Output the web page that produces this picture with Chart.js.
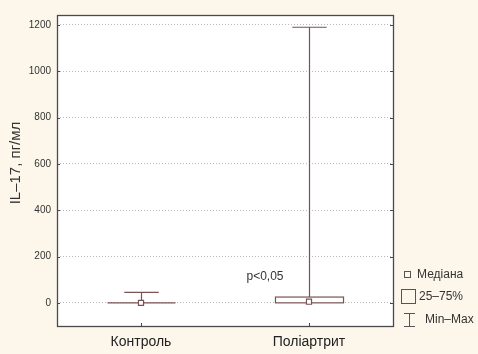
<!DOCTYPE html>
<html>
<head>
<meta charset="utf-8">
<script src="https://cdn.jsdelivr.net/npm/chart.js@4.4.0/dist/chart.umd.min.js"></script>
<style>
  html, body { margin: 0; padding: 0; background: #fcf7ea; }
  canvas { display: block; }
</style>
</head>
<body>
<canvas id="chart" width="478" height="354"></canvas>
<script>
// data
const categories = ['Контроль', 'Поліартрит'];
const minValues = [0, 0];
const q1Values = [0, 0];
const medianValues = [0, 5];
const q3Values = [0, 25];
const maxValues = [45, 1190];
const yTicks = [0, 200, 400, 600, 800, 1000, 1200];
const yTitle = 'IL–17, пг/мл';
const pLabel = 'p<0,05';
const legendLabels = ['Медіана', '25–75%', 'Min–Max'];

const FONT = 'Liberation Sans, Arial, sans-serif';
const BOX_COLOR = '#7a5252';
const PAGE_BG = '#fcf7ea';

Chart.defaults.font.family = FONT;
Chart.defaults.color = '#333';

function line(ctx, x1, y1, x2, y2) {
    ctx.beginPath();
    ctx.moveTo(x1, y1);
    ctx.lineTo(x2, y2);
    ctx.stroke();
}

const boxPlot = {
    id: 'boxPlot',
    beforeDraw(chart) {
        const { ctx, chartArea: a } = chart;
        ctx.save();
        ctx.fillStyle = PAGE_BG;
        ctx.fillRect(0, 0, chart.width, chart.height);
        ctx.fillStyle = '#fff';
        ctx.fillRect(a.left, a.top, a.right - a.left, a.bottom - a.top);
        ctx.restore();
    },
    beforeDatasetsDraw(chart) {
        const { ctx, scales: { x, y } } = chart;
        const step = x.getPixelForValue(1) - x.getPixelForValue(0);
        const boxW = step * 0.405;
        const capW = step * 0.205;
        ctx.save();
        ctx.strokeStyle = BOX_COLOR;
        ctx.lineWidth = 1.2;
        categories.forEach((c, i) => {
            const cx = Math.round(x.getPixelForValue(i)) + 0.5;
            const yMin = y.getPixelForValue(minValues[i]);
            const yQ1 = y.getPixelForValue(q1Values[i]);
            const yQ3 = y.getPixelForValue(q3Values[i]);
            const yMax = y.getPixelForValue(maxValues[i]);
            // upper whisker
            if (maxValues[i] > q3Values[i]) {
                line(ctx, cx, yQ3, cx, yMax);
                line(ctx, cx - capW / 2, yMax, cx + capW / 2, yMax);
            }
            // lower whisker
            if (minValues[i] < q1Values[i]) {
                line(ctx, cx, yQ1, cx, yMin);
                line(ctx, cx - capW / 2, yMin, cx + capW / 2, yMin);
            }
            // box
            if (yQ1 - yQ3 < 1) {
                line(ctx, cx - boxW / 2, yQ1, cx + boxW / 2, yQ1);
            } else {
                ctx.fillStyle = '#fff';
                ctx.fillRect(cx - boxW / 2, yQ3, boxW, yQ1 - yQ3);
                ctx.strokeRect(cx - boxW / 2, yQ3, boxW, yQ1 - yQ3);
            }
        });
        ctx.restore();
    },
    afterDraw(chart) {
        const { ctx, chartArea: a, scales: { x, y } } = chart;
        ctx.save();
        // frame
        ctx.strokeStyle = '#4a4a4a';
        ctx.lineWidth = 1.3;
        ctx.strokeRect(Math.round(a.left) + 0.5, Math.round(a.top) + 0.5,
            Math.round(a.right - a.left), Math.round(a.bottom - a.top));
        // small inner tick marks
        ctx.lineWidth = 1;
        yTicks.forEach(v => {
            const py = Math.round(y.getPixelForValue(v)) + 0.5;
            line(ctx, a.left, py, a.left + 3, py);
            line(ctx, a.right - 3, py, a.right, py);
        });
        categories.forEach((c, i) => {
            const px = Math.round(x.getPixelForValue(i)) + 0.5;
            line(ctx, px, a.bottom - 3, px, a.bottom);
        });

        // y title
        ctx.fillStyle = '#333';
        ctx.font = '15px ' + FONT;
        ctx.textAlign = 'center';
        ctx.textBaseline = 'middle';
        ctx.save();
        ctx.translate(16, 163);
        ctx.rotate(-Math.PI / 2);
        ctx.fillText(yTitle, 0, 0);
        ctx.restore();

        // significance label
        ctx.font = '12px ' + FONT;
        ctx.fillText(pLabel, 265, 277);

        // legend
        ctx.textAlign = 'left';
        ctx.strokeStyle = '#555';
        ctx.lineWidth = 1;
        ctx.strokeRect(404.5, 271.5, 6, 6);
        ctx.fillText(legendLabels[0], 417, 275);
        ctx.strokeRect(401.5, 289.5, 14, 14);
        ctx.fillText(legendLabels[1], 419, 297);
        line(ctx, 409.5, 314, 409.5, 326);
        line(ctx, 404, 313.5, 415, 313.5);
        line(ctx, 404, 326.5, 415, 326.5);
        ctx.fillText(legendLabels[2], 425, 320);
        ctx.restore();
    }
};

new Chart(document.getElementById('chart'), {
    type: 'line',
    data: {
        labels: categories,
        datasets: [{
            label: legendLabels[0],
            data: medianValues,
            showLine: false,
            pointStyle: 'rect',
            pointRadius: 3.6,
            pointBorderWidth: 1.2,
            pointBackgroundColor: '#fff',
            pointBorderColor: BOX_COLOR
        }]
    },
    options: {
        responsive: false,
        animation: false,
        devicePixelRatio: 1,
        events: [],
        layout: { padding: { left: 0, top: 15, right: 85, bottom: 0 } },
        plugins: {
            legend: { display: false },
            tooltip: { enabled: false }
        },
        scales: {
            x: {
                offset: true,
                grid: { display: false, drawTicks: false },
                border: { display: false },
                ticks: { font: { size: 14 }, color: '#222', padding: 8 },
                afterFit(scale) { scale.height = 28; }
            },
            y: {
                min: -100,
                max: 1243,
                afterBuildTicks(scale) {
                    scale.ticks = yTicks.map(v => ({ value: v }));
                },
                grid: {
                    drawTicks: false,
                    color: '#b8b8b8',
                    lineWidth: 1
                },
                border: { display: false, dash: [1, 2] },
                ticks: {
                    font: { size: 10 },
                    color: '#333',
                    padding: 6,
                    callback: v => String(v)
                },
                afterFit(scale) { scale.width = 57; }
            }
        }
    },
    plugins: [boxPlot]
});
</script>
</body>
</html>
